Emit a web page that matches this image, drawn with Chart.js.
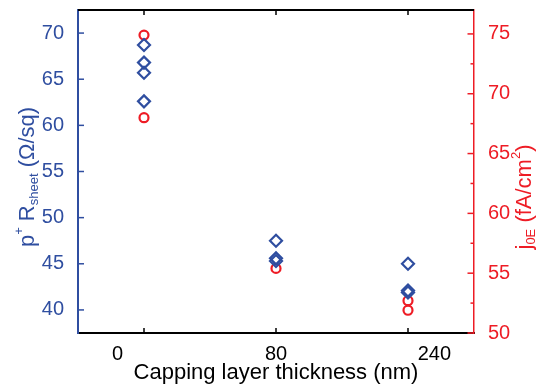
<!DOCTYPE html>
<html>
<head>
<meta charset="utf-8">
<script src="https://cdn.jsdelivr.net/npm/chart.js@4/dist/chart.umd.min.js"></script>
<style>
  html, body { margin: 0; padding: 0; background: #fff; }
  #wrap { width: 540px; height: 390px; }
</style>
</head>
<body>
<div id="wrap"><canvas id="chart"></canvas></div>
<script>
// capping layer thickness groups (nm)
const categories = ['0', '80', '240'];

// p+ sheet resistance (ohm/sq), left axis
const rSheetAt0 = [68.7, 66.8, 65.7, 62.6];
const rSheetAt80 = [47.5, 45.6, 45.3];
const rSheetAt240 = [45.0, 42.1, 41.9];

// j0E (fA/cm2), right axis
const j0eAt0 = [74.9, 68.0];
const j0eAt80 = [55.4];
const j0eAt240 = [52.7, 51.9];

// tick labels
const rSheetTicks = [40, 45, 50, 55, 60, 65, 70];
const j0eTicks = [50, 55, 60, 65, 70, 75];

const BLUE = '#2f4ea0';
const RED = '#ee1c25';
const FONT = 'Arial, "Liberation Sans", sans-serif';

// where the x labels sit along the axis (they are not under the marks)
const xLabelPos = [0.8, 2.0, 3.2];

function toPoints(groups) {
    const pts = [];
    groups.forEach((vals, i) => {
        vals.forEach(v => pts.push({ x: i + 1, y: v }));
    });
    return pts;
}

function withMinor(major) {
    const out = [];
    major.forEach((v, i) => {
        out.push(v);
        if (i < major.length - 1) out.push((v + major[i + 1]) / 2);
    });
    return out;
}

function line(ctx, x1, y1, x2, y2) {
    ctx.beginPath();
    ctx.moveTo(x1, y1);
    ctx.lineTo(x2, y2);
    ctx.stroke();
}

// rotated title with sub/superscripts
function richTitle(ctx, parts, cx, cy, size, color) {
    const small = Math.round(size * 0.6);
    ctx.save();
    ctx.fillStyle = color;
    ctx.textBaseline = 'middle';
    ctx.textAlign = 'left';
    let total = 0;
    parts.forEach(p => {
        ctx.font = (p.m === 'n' ? size : small) + 'px ' + FONT;
        p.w = ctx.measureText(p.t).width;
        total += p.w;
    });
    ctx.translate(cx, cy);
    ctx.rotate(-Math.PI / 2);
    let x = -total / 2;
    parts.forEach(p => {
        ctx.font = (p.m === 'n' ? size : small) + 'px ' + FONT;
        let dy = 0;
        if (p.m === 'sub') dy = size * 0.3;
        if (p.m === 'sup') dy = -size * 0.38;
        ctx.fillText(p.t, x, dy);
        x += p.w;
    });
    ctx.restore();
}

const decor = {
    id: 'decor',
    afterDraw(chart) {
        const { ctx, chartArea: a, scales } = chart;
        ctx.save();
        ctx.lineWidth = 2;
        ctx.strokeStyle = '#000';
        line(ctx, a.left, a.top, a.right, a.top);

        // x tick marks, bottom and top, pointing inwards
        ctx.lineWidth = 1.5;
        categories.forEach((c, i) => {
            const px = scales.x.getPixelForValue(i + 1);
            line(ctx, px, a.bottom, px, a.bottom - 5);
            line(ctx, px, a.top, px, a.top + 5);
        });

        ctx.strokeStyle = BLUE;
        scales.y.ticks.forEach(t => {
            const py = scales.y.getPixelForValue(t.value);
            const len = rSheetTicks.includes(t.value) ? 6 : 3.5;
            line(ctx, a.left, py, a.left + len, py);
        });

        ctx.strokeStyle = RED;
        scales.y1.ticks.forEach(t => {
            const py = scales.y1.getPixelForValue(t.value);
            const len = j0eTicks.includes(t.value) ? 6.5 : 3.5;
            line(ctx, a.right, py, a.right - len, py);
        });
        ctx.restore();

        richTitle(ctx, [
            { t: 'p', m: 'n' }, { t: '+', m: 'sup' }, { t: ' R', m: 'n' },
            { t: 'sheet', m: 'sub' }, { t: ' (\u03A9/sq)', m: 'n' }
        ], 28, 177, 22, BLUE);
        richTitle(ctx, [
            { t: 'j', m: 'n' }, { t: '0E', m: 'sub' }, { t: ' (fA/cm', m: 'n' },
            { t: '2', m: 'sup' }, { t: ')', m: 'n' }
        ], 525, 197, 22, RED);
    }
};

Chart.defaults.font.family = FONT;
Chart.defaults.font.size = 20;

new Chart(document.getElementById('chart'), {
    type: 'scatter',
    data: {
        datasets: [{
            label: 'Rsheet',
            data: toPoints([rSheetAt0, rSheetAt80, rSheetAt240]),
            yAxisID: 'y',
            pointStyle: 'rectRot',
            radius: 6,
            borderWidth: 2.2,
            borderColor: BLUE,
            backgroundColor: 'rgba(0,0,0,0)'
        }, {
            label: 'j0E',
            data: toPoints([j0eAt0, j0eAt80, j0eAt240]),
            yAxisID: 'y1',
            pointStyle: 'circle',
            radius: 4.5,
            borderWidth: 2.2,
            borderColor: RED,
            backgroundColor: 'rgba(0,0,0,0)'
        }]
    },
    options: {
        responsive: true,
        maintainAspectRatio: false,
        animation: false,
        layout: { padding: { top: 10, left: 0, right: 0, bottom: 0 } },
        plugins: {
            legend: { display: false },
            tooltip: { enabled: false }
        },
        scales: {
            x: {
                type: 'linear',
                min: 0.5,
                max: 3.5,
                grid: { display: false },
                border: { color: '#000', width: 2 },
                afterBuildTicks: scale => {
                    scale.ticks = xLabelPos.map(v => ({ value: v }));
                },
                ticks: {
                    color: '#000',
                    padding: 1,
                    autoSkip: false,
                    maxRotation: 0,
                    callback: (v, i) => categories[i]
                },
                title: {
                    display: true,
                    text: 'Capping layer thickness (nm)',
                    color: '#000',
                    font: { size: 22 },
                    padding: { top: 4, bottom: 4 }
                },
                afterFit: scale => {
                    scale.height = 57;
                    scale.paddingLeft = 0;
                    scale.paddingRight = 0;
                }
            },
            y: {
                position: 'left',
                min: 37.5,
                max: 72.5,
                grid: { display: false },
                border: { color: BLUE, width: 2 },
                afterBuildTicks: scale => {
                    scale.ticks = withMinor(rSheetTicks).map(v => ({ value: v }));
                },
                ticks: {
                    color: BLUE,
                    padding: 6,
                    callback: v => rSheetTicks.includes(v) ? String(v) : ''
                },
                afterFit: scale => {
                    scale.width = 78;
                    scale.paddingTop = 0;
                    scale.paddingBottom = 0;
                }
            },
            y1: {
                position: 'right',
                min: 50,
                max: 77,
                grid: { display: false },
                border: { color: RED, width: 1.5 },
                afterBuildTicks: scale => {
                    scale.ticks = withMinor(j0eTicks).map(v => ({ value: v }));
                },
                ticks: {
                    color: RED,
                    padding: 6,
                    callback: v => j0eTicks.includes(v) ? String(v) : ''
                },
                afterFit: scale => {
                    scale.width = 66;
                    scale.paddingTop = 0;
                    scale.paddingBottom = 0;
                }
            }
        }
    },
    plugins: [decor]
});
</script>
</body>
</html>
